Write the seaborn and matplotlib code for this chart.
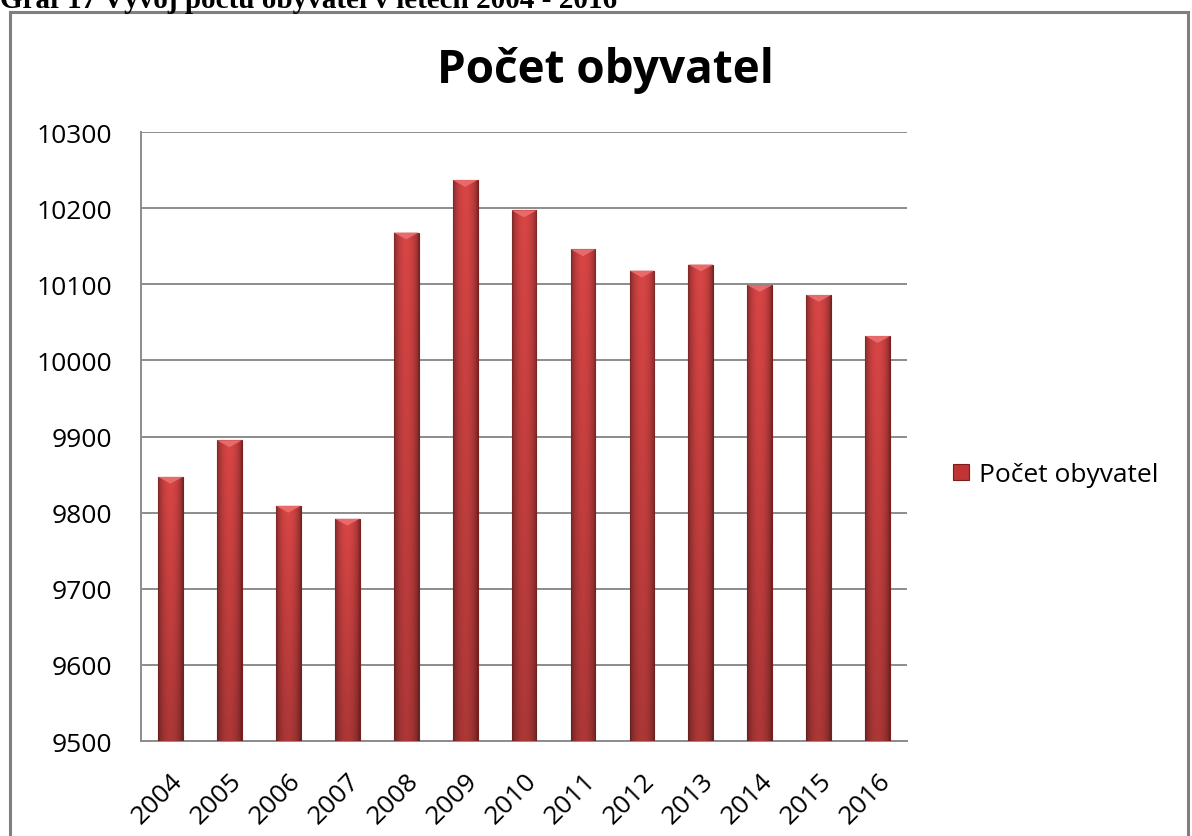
import matplotlib
matplotlib.use("Agg")
import matplotlib.pyplot as plt
from matplotlib.patches import Rectangle, Patch
import seaborn as sns
import numpy as np
import pandas as pd

# --- data ---
years = ["2004", "2005", "2006", "2007", "2008", "2009", "2010",
         "2011", "2012", "2013", "2014", "2015", "2016"]
population = [9847, 9895, 9809, 9792, 10168, 10237, 10197,
              10146, 10118, 10126, 10099, 10086, 10032]
y_ticks = [9500, 9600, 9700, 9800, 9900, 10000, 10100, 10200, 10300]

caption = "Graf 17 Vývoj počtu obyvatel v letech 2004 - 2016"
chart_title = "Počet obyvatel"
series_name = "Počet obyvatel"

df = pd.DataFrame({"rok": years, "obyvatel": population})

sns.set_style("white")
plt.rcParams["font.family"] = ["Open Sans", "DejaVu Sans"]
plt.rcParams["text.color"] = "black"
plt.rcParams["xtick.labelcolor"] = "black"
plt.rcParams["ytick.labelcolor"] = "black"

fig = plt.figure(figsize=(11.92, 8.37), dpi=100)
ax = fig.add_axes([0.1183, 0.1135, 0.6427, 0.7275])

bar_color = "#C73B3B"
sns.barplot(data=df, x="rok", y="obyvatel", color=bar_color, width=0.42,
            edgecolor="#7A1E1E", linewidth=0.8, saturation=1, ax=ax, zorder=3)

ax.set_ylim(y_ticks[0], y_ticks[-1])
ax.set_xlim(-0.5, len(years) - 0.5)

# shaded look of the Excel bars: horizontal dark-light-dark gradient
t = np.linspace(0, 1, 64)
shade = 0.55 + 0.45 * np.sin(np.pi * t) ** 0.6
base = np.array(matplotlib.colors.to_rgb("#D84545"))
grad = np.clip(shade[None, :, None] * base[None, None, :], 0, 1)
vfade = np.linspace(0.8, 1.0, 32)[:, None, None]
img = np.clip(grad * vfade, 0, 1)
for p in ax.patches:
    x0 = p.get_x()
    w = p.get_width()
    top = p.get_y() + p.get_height()
    im = ax.imshow(img, extent=(x0, x0 + w, y_ticks[0], top), aspect="auto",
                   origin="lower", zorder=3.5, interpolation="bilinear")
    im.set_clip_path(p)
    # small lighter cap at the top of each bar
    ax.fill([x0, x0 + w, x0 + w / 2], [top, top, top - 9], color="#E86A6A",
            zorder=4, lw=0)

ax.set_yticks(y_ticks)
ax.set_yticklabels([str(v) for v in y_ticks], fontsize=19)
ax.yaxis.grid(True, color="#8C8C8C", linewidth=1.4, zorder=0)
ax.set_axisbelow(True)

ax.set_xticks(range(len(years)))
ax.set_xticklabels(years, rotation=45, ha="right", rotation_mode="anchor", fontsize=19)
ax.set_xticks(np.arange(-0.5, len(years)), minor=True)
ax.tick_params(axis="x", which="major", length=0, pad=19)
ax.tick_params(axis="x", which="minor", length=9, width=1.2, color="#8C8C8C", direction="out")
ax.tick_params(axis="y", length=8, width=1.2, color="#8C8C8C", direction="out", pad=13)

ax.set_xlabel("")
ax.set_ylabel("")
for side in ["top", "right"]:
    ax.spines[side].set_visible(False)
for side in ["left", "bottom"]:
    ax.spines[side].set_color("#8C8C8C")
    ax.spines[side].set_linewidth(1.4)

handle = Patch(facecolor="#C03434", edgecolor="#7A1E1E", linewidth=0.8)
ax.legend([handle], [series_name], loc="center left", bbox_to_anchor=(1.06, 0.437),
          frameon=False, fontsize=19, handlelength=0.6, handleheight=0.6,
          handletextpad=0.4, borderpad=0, borderaxespad=0)

fig.text(0.508, 0.916, chart_title, ha="center", va="center", fontsize=33,
         fontweight="bold")

# chart frame and the cut-off caption above it
fig.patches.append(Rectangle((10 / 1192, -0.05), 1178 / 1192, 1.05 - 13 / 837,
                             transform=fig.transFigure, fill=False,
                             edgecolor="#7F7F7F", linewidth=2.2))
fig.text(0.0, 0.9905, caption, ha="left", va="baseline", fontsize=21,
         fontweight="bold", family=["Liberation Serif", "DejaVu Serif"])

fig.savefig("out.png", dpi=100)
